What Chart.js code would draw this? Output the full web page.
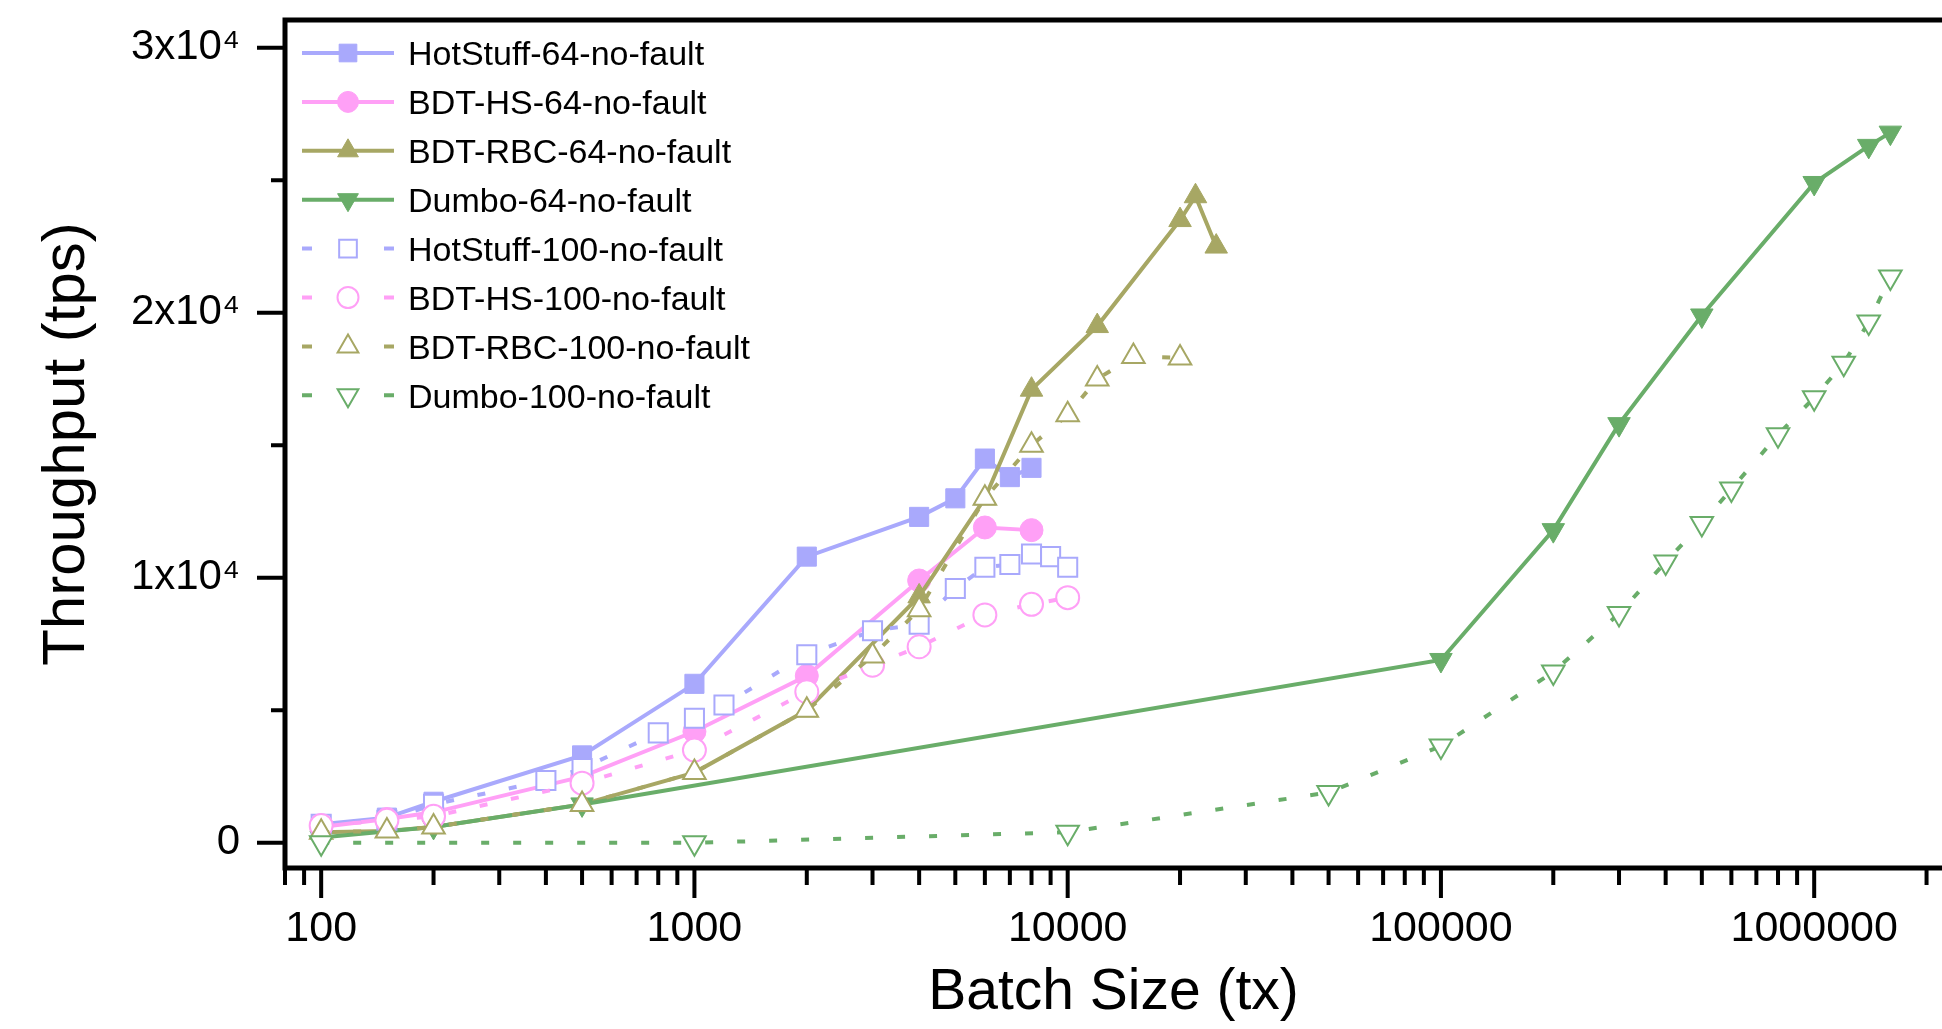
<!DOCTYPE html>
<html>
<head>
<meta charset="utf-8">
<title>Throughput vs Batch Size</title>
<script src="https://cdn.jsdelivr.net/npm/chart.js@4.4.0/dist/chart.umd.min.js"></script>
<style>
  html, body { margin: 0; padding: 0; background: #fff; overflow: hidden; }
  #wrap { width: 1942px; height: 1029px; }
</style>
</head>
<body>
<div id="wrap"><canvas id="myChart" width="1942" height="1029"></canvas></div>
<script>
// ---- data ----
const seriesNames = [
  "HotStuff-64-no-fault", "BDT-HS-64-no-fault", "BDT-RBC-64-no-fault", "Dumbo-64-no-fault",
  "HotStuff-100-no-fault", "BDT-HS-100-no-fault", "BDT-RBC-100-no-fault", "Dumbo-100-no-fault"
];

const hs64X = [100, 150, 200, 500, 1000, 2000, 4000, 5000, 6000, 7000, 8000];
const hs64Y = [700, 950, 1550, 3300, 6000, 10800, 12300, 13000, 14500, 13800, 14150];

const bdths64X = [100, 150, 200, 500, 1000, 2000, 4000, 6000, 8000];
const bdths64Y = [600, 900, 1150, 2500, 4200, 6300, 9900, 11900, 11800];

const rbc64X = [100, 150, 200, 500, 1000, 2000, 4000, 6000, 8000, 12000, 20000, 22000, 25000];
const rbc64Y = [400, 450, 600, 1450, 2650, 5000, 9300, 13000, 17100, 19500, 23500, 24400, 22500];

const dumbo64X = [100, 200, 500, 100000, 200000, 300000, 500000, 1000000, 1400000, 1600000];
const dumbo64Y = [200, 600, 1450, 6900, 11800, 15800, 19900, 24900, 26300, 26800];

const hs100X = [100, 150, 200, 400, 500, 800, 1000, 1200, 2000, 3000, 4000, 5000, 6000, 7000, 8000, 9000, 10000];
const hs100Y = [700, 850, 1450, 2350, 2800, 4150, 4700, 5200, 7100, 8000, 8250, 9600, 10400, 10500, 10900, 10800, 10400];

const bdths100X = [100, 150, 200, 500, 1000, 2000, 3000, 4000, 6000, 8000, 10000];
const bdths100Y = [650, 850, 1000, 2250, 3500, 5700, 6700, 7400, 8600, 9000, 9250];

const rbc100X = [100, 150, 200, 500, 1000, 2000, 3000, 4000, 6000, 8000, 10000, 12000, 15000, 20000];
const rbc100Y = [400, 450, 600, 1450, 2650, 5000, 7050, 8800, 13000, 15000, 16150, 17500, 18350, 18300];

const dumbo100X = [100, 1000, 10000, 50000, 100000, 200000, 300000, 400000, 500000, 600000, 800000, 1000000, 1200000, 1400000, 1600000];
const dumbo100Y = [0, 0, 400, 1900, 3650, 6450, 8650, 10600, 12050, 13350, 15400, 16800, 18100, 19650, 21350];

const xMajorTicks = [100, 1000, 10000, 100000, 1000000];
const xTickLabels = ["100", "1000", "10000", "100000", "1000000"];
const yMajorTicks = [0, 10000, 20000, 30000];
const yTickLabels = ["0", "1x10\u2074", "2x10\u2074", "3x10\u2074"];
const yMinorTicks = [5000, 15000, 25000];

// ---- styles ----
const BLUE = "#a9a9fc";
const PINK = "#ffa0f6";
const OLIVE = "#a7a764";
const GREEN = "#69ad69";
const FONT = '"Liberation Sans", Arial, Helvetica, sans-serif';

function makeSet(i, xs, ys, color, style, filled, dashed, rot, r) {
  return {
    label: seriesNames[i],
    data: xs.map((x, k) => ({ x: x, y: ys[k] })),
    borderColor: color,
    backgroundColor: filled ? color : "#ffffff",
    pointBackgroundColor: filled ? color : "#ffffff",
    pointBorderColor: color,
    pointBorderWidth: filled ? 1 : 2,
    pointStyle: style,
    pointRotation: rot,
    pointRadius: r,
    borderWidth: 4,
    borderDash: dashed ? [8, 24] : [],
    fill: false,
    tension: 0,
    order: 7 - i,
  };
}

const datasets = [
  makeSet(0, hs64X, hs64Y, BLUE, "rect", true, false, 0, 13.5),
  makeSet(1, bdths64X, bdths64Y, PINK, "circle", true, false, 0, 11.5),
  makeSet(2, rbc64X, rbc64Y, OLIVE, "triangle", true, false, 0, 13),
  makeSet(3, dumbo64X, dumbo64Y, GREEN, "triangle", true, false, 180, 13),
  makeSet(4, hs100X, hs100Y, BLUE, "rect", false, true, 0, 13.5),
  makeSet(5, bdths100X, bdths100Y, PINK, "circle", false, true, 0, 11.5),
  makeSet(6, rbc100X, rbc100Y, OLIVE, "triangle", false, true, 0, 13),
  makeSet(7, dumbo100X, dumbo100Y, GREEN, "triangle", false, true, 180, 13),
];

// frame + tick marks (major / minor lengths differ, so drawn here from the scales)
const frameTicks = {
  id: "frameTicks",
  afterDatasetsDraw(chart) {
    const { ctx, chartArea: a, scales } = chart;
    const x = scales.x, y = scales.y;
    ctx.save();
    ctx.strokeStyle = "#000";
    ctx.lineCap = "butt";
    ctx.lineWidth = 4;
    ctx.beginPath();
    xMajorTicks.forEach(v => {
      const px = x.getPixelForValue(v);
      ctx.moveTo(px, a.bottom); ctx.lineTo(px, a.bottom + 30);
    });
    for (let d = 10; d <= 1000000; d *= 10) {
      for (let k = 2; k <= 9; k++) {
        const v = k * d;
        if (v < x.min || v > x.max) continue;
        const px = x.getPixelForValue(v);
        ctx.moveTo(px, a.bottom); ctx.lineTo(px, a.bottom + 17);
      }
    }
    yMajorTicks.forEach(v => {
      const py = y.getPixelForValue(v);
      ctx.moveTo(a.left, py); ctx.lineTo(a.left - 28, py);
    });
    yMinorTicks.forEach(v => {
      const py = y.getPixelForValue(v);
      ctx.moveTo(a.left, py); ctx.lineTo(a.left - 14, py);
    });
    ctx.stroke();

    ctx.lineWidth = 5;
    ctx.beginPath();
    ctx.moveTo(a.left, a.bottom + 2);
    ctx.lineTo(a.left, a.top);
    ctx.lineTo(a.right + 5, a.top);
    ctx.moveTo(a.left - 2.5, a.bottom);
    ctx.lineTo(a.right + 5, a.bottom);
    ctx.stroke();
    ctx.restore();
  }
};

// legend with line + marker samples
const lineLegend = {
  id: "lineLegend",
  afterDraw(chart) {
    const ctx = chart.ctx;
    ctx.save();
    chart.data.datasets.forEach((ds, i) => {
      const yRow = 53 + i * 48.9;
      ctx.strokeStyle = ds.borderColor;
      ctx.lineWidth = ds.borderWidth;
      ctx.setLineDash(ds.borderDash.length ? [10, 72] : []);
      ctx.beginPath();
      ctx.moveTo(302, yRow);
      ctx.lineTo(394, yRow);
      ctx.stroke();
      ctx.setLineDash([]);
      ctx.fillStyle = ds.pointBackgroundColor;
      ctx.strokeStyle = ds.pointBorderColor;
      ctx.lineWidth = ds.pointBorderWidth;
      Chart.helpers.drawPoint(ctx, {
        pointStyle: ds.pointStyle,
        rotation: ds.pointRotation,
        radius: ds.pointRadius - 1,
        borderWidth: ds.pointBorderWidth
      }, 348, yRow);
      ctx.fillStyle = "#000";
      ctx.font = "34px " + FONT;
      ctx.textAlign = "left";
      ctx.textBaseline = "middle";
      ctx.fillText(ds.label, 408, yRow + 3);
    });
    ctx.restore();
  }
};

new Chart(document.getElementById("myChart"), {
  type: "line",
  data: { datasets: datasets },
  options: {
    responsive: false,
    devicePixelRatio: 1,
    animation: false,
    events: [],
    layout: { autoPadding: false, padding: { top: 20, right: 0, bottom: 0, left: 0 } },
    plugins: { legend: { display: false }, tooltip: { enabled: false } },
    scales: {
      x: {
        type: "logarithmic",
        min: 80,
        max: 2200000,
        afterBuildTicks: s => { s.ticks = xMajorTicks.map(v => ({ value: v })); },
        afterFit: s => { s.height = 161; s.paddingLeft = 0; s.paddingRight = 0; },
        grid: { display: false, drawTicks: false },
        border: { display: false },
        ticks: {
          autoSkip: false,
          maxRotation: 0,
          padding: 35,
          color: "#000",
          font: { family: FONT, size: 43 },
          callback: v => xTickLabels[xMajorTicks.indexOf(v)]
        },
        title: {
          display: true,
          text: "Batch Size (tx)",
          color: "#000",
          font: { family: FONT, size: 57 },
          padding: { top: 0, bottom: 2 }
        }
      },
      y: {
        type: "linear",
        min: -950,
        max: 31050,
        afterBuildTicks: s => { s.ticks = yMajorTicks.map(v => ({ value: v })); },
        afterFit: s => { s.width = 285; s.paddingTop = 0; s.paddingBottom = 0; },
        grid: { display: false, drawTicks: false },
        border: { display: false },
        ticks: {
          autoSkip: false,
          padding: 45,
          color: "#000",
          font: { family: FONT, size: 42, lineHeight: 0.9 },
          callback: v => yTickLabels[yMajorTicks.indexOf(v)]
        },
        title: {
          display: true,
          text: "Throughput (tps)",
          color: "#000",
          font: { family: FONT, size: 60 },
          padding: { top: 31, bottom: 0 }
        }
      }
    }
  },
  plugins: [frameTicks, lineLegend]
});
</script>
</body>
</html>
